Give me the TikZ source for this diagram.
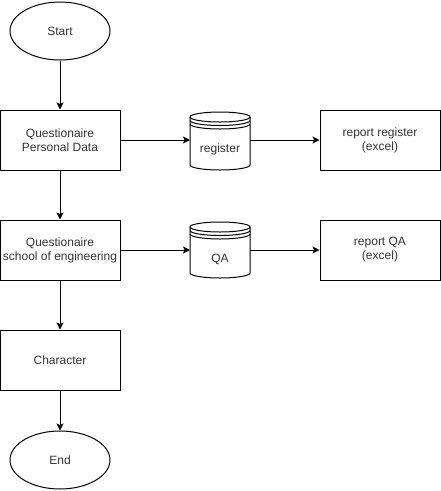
\documentclass[tikz,border=0pt]{standalone}
\usepackage{fontspec}
\setmainfont{Liberation Sans}
\usetikzlibrary{arrows.meta,shapes.geometric}
\tikzset{
  base/.style={draw=black, line width=1pt, fill=white, font=\fontsize{12}{14}\selectfont, text=black!80, align=center, inner sep=0pt},
  procbox/.style={base, rectangle, minimum width=120pt, minimum height=60pt},
  term/.style={base, ellipse, minimum width=100pt, minimum height=58pt},
  storetext/.style={font=\fontsize{12}{14}\selectfont, text=black!80, inner sep=0pt},
  conn/.style={line width=1pt, -{Stealth[length=7pt,width=7pt,inset=1.5pt]}},
  cylline/.style={line width=1pt, draw=black}
}
\newcommand{\datastore}[3]{% cx, top, bottom
  \fill[white] (#1-30,#2+5) -- (#1-30,#3-5) arc[start angle=180,end angle=0,x radius=30,y radius=5] -- (#1+30,#2+5) arc[start angle=0,end angle=-180,x radius=30,y radius=5] -- cycle;
  \draw[cylline] (#1,#2+5) ellipse[x radius=30,y radius=5];
  \draw[cylline] (#1-30,#2+5) -- (#1-30,#3-5) arc[start angle=180,end angle=0,x radius=30,y radius=5] -- (#1+30,#2+5);
  \draw[cylline] (#1-30,#2+8.5) arc[start angle=180,end angle=0,x radius=30,y radius=5];
  \draw[cylline] (#1-30,#2+12) arc[start angle=180,end angle=0,x radius=30,y radius=5];
}
\begin{document}
\begin{tikzpicture}[x=1pt,y=-1pt]
\useasboundingbox (0,0) rectangle (441,491);
\node[term] (start) at (60,31) {Start};
\node[procbox] (q1) at (60,140) {Questionaire\\Personal Data};
\datastore{220}{112}{170}
\node[storetext] (regtxt) at (220,149) {register};
\node[procbox] (rep1) at (380,140) {report register\\(excel)};
\node[procbox] (q2) at (60,250) {Questionaire\\school of engineering};
\datastore{220}{222}{278}
\node[storetext] (qatxt) at (220,259) {QA};
\node[procbox] (rep2) at (380,250) {report QA\\(excel)};
\node[procbox] (ch) at (60,360) {Character};
\node[term] (end) at (60,460) {End};
\coordinate (regW) at (190,140);
\coordinate (regE) at (250,140);
\coordinate (qaW) at (190,250);
\coordinate (qaE) at (250,250);
\draw[conn] (start) -- (q1);
\draw[conn] (q1) -- (q2);
\draw[conn] (q2) -- (ch);
\draw[conn] (ch) -- (end);
\draw[conn] (q1.east) -- (regW);
\draw[conn] (regE) -- (rep1.west);
\draw[conn] (q2.east) -- (qaW);
\draw[conn] (qaE) -- (rep2.west);
\end{tikzpicture}
\end{document}
